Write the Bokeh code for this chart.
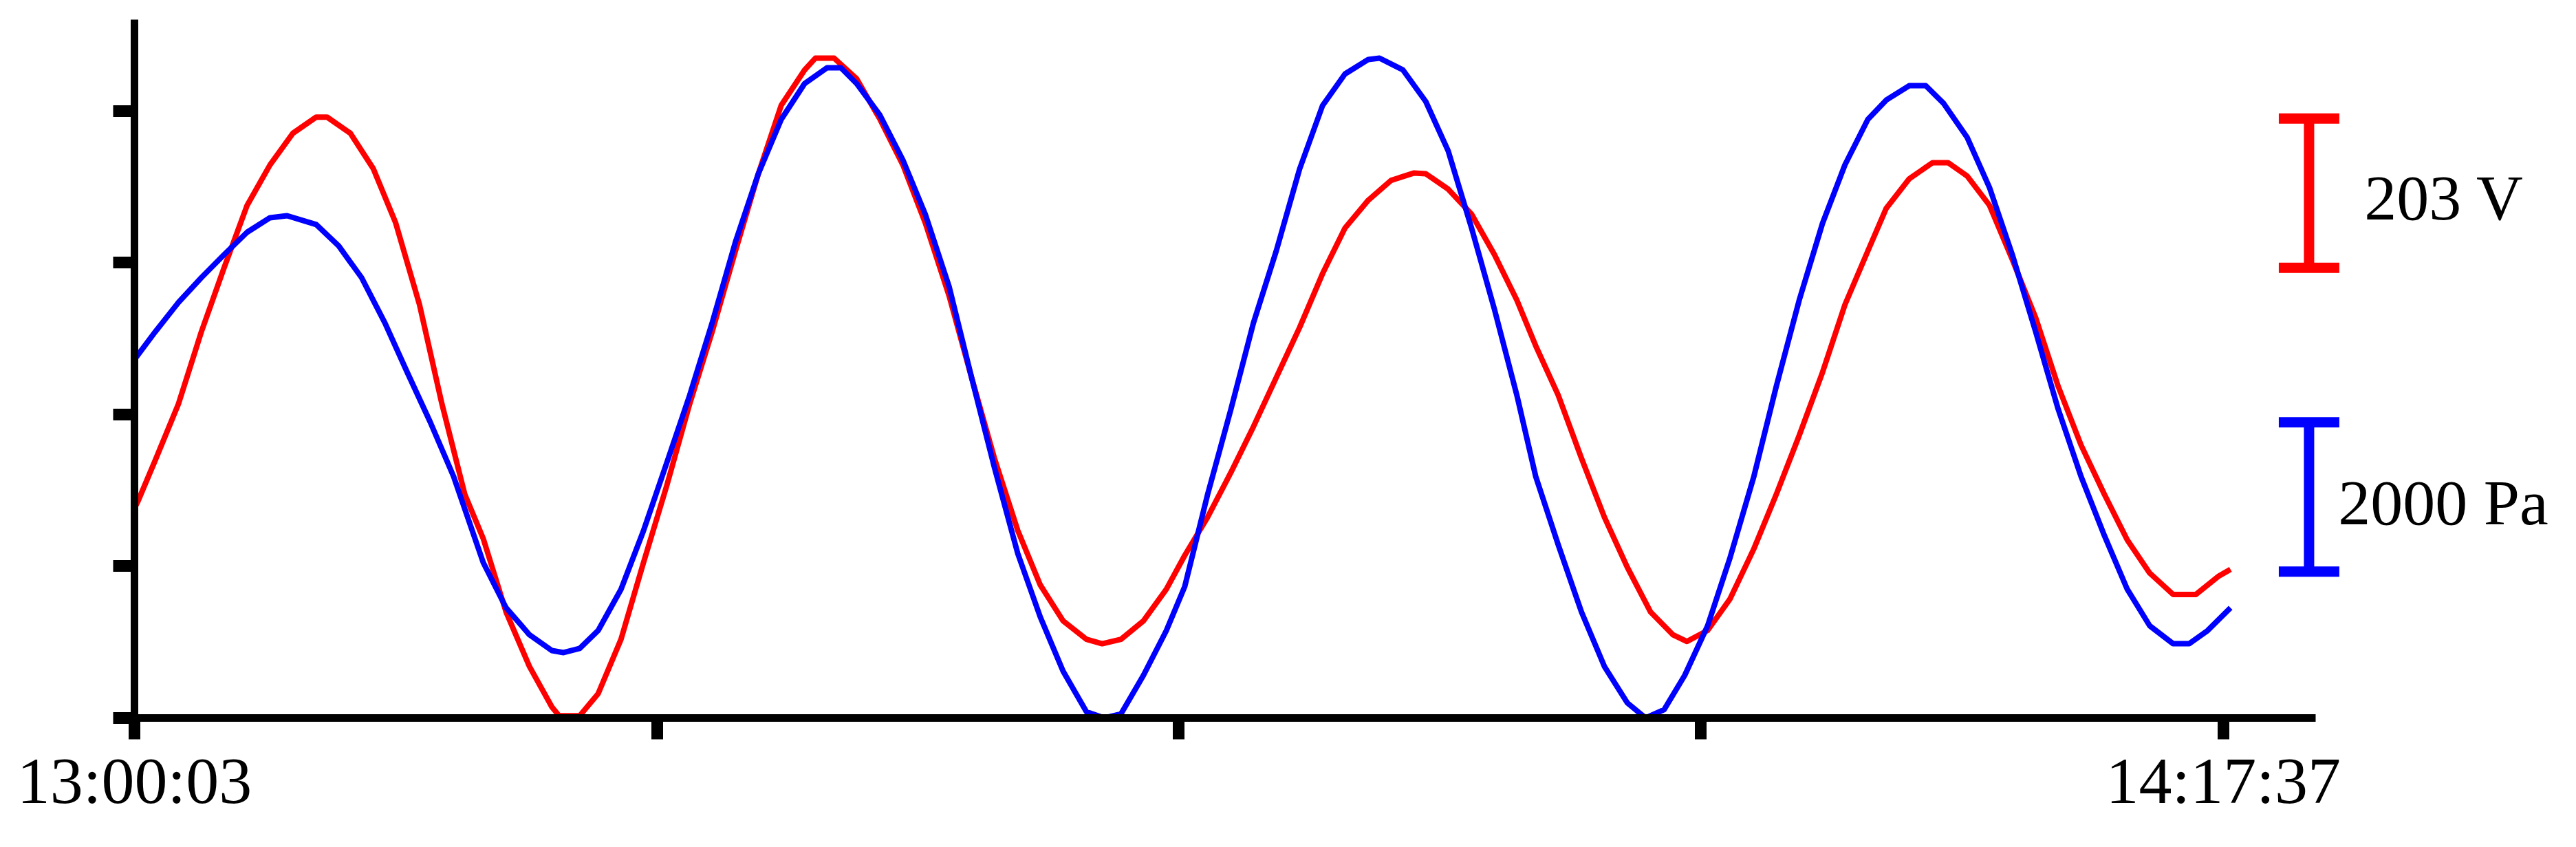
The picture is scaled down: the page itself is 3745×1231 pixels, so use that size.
from bokeh.plotting import figure
from bokeh.models import Range1d, FixedTicker, Label, Arrow, TeeHead, LinearAxis
from bokeh.embed import file_html
from bokeh.resources import INLINE

# ---------------- data ----------------
start_label = "13:00:03"
end_label = "14:17:37"

# red series: voltage (V) against seconds after 13:00:03
red_t = [0, 8, 46, 98, 149, 199, 251, 302, 353, 405,
         429, 481, 532, 582, 635, 685, 736, 777, 803, 828,
         880, 930, 946, 992, 1033, 1084, 1134, 1186, 1237, 1287,
         1339, 1390, 1441, 1493, 1517, 1559, 1609, 1661, 1712, 1762,
         1815, 1865, 1916, 1968, 2018, 2069, 2121, 2156, 2198, 2248,
         2299, 2340, 2391, 2443, 2493, 2544, 2596, 2647, 2697, 2749,
         2800, 2851, 2877, 2927, 2979, 3030, 3080, 3122, 3172, 3224,
         3275, 3326, 3378, 3428, 3459, 3505, 3555, 3608, 3658, 3709,
         3761, 3811, 3862, 3903, 3954, 4006, 4041, 4083, 4133, 4184,
         4236, 4286, 4337, 4389, 4440, 4490, 4542, 4593, 4644, 4670]
red_volts = [285, 295, 350, 427, 525, 611, 697, 752, 795, 817,
             817, 795, 747, 673, 562, 427, 304, 244, 193, 144,
             70, 15, 3, 3, 33, 107, 211, 316, 427, 525,
             635, 740, 833, 881, 897, 897, 869, 814, 752, 673,
             574, 463, 353, 255, 181, 132, 107, 101, 107, 132,
             175, 221, 273, 334, 396, 463, 531, 604, 666, 704,
             731, 741, 740, 719, 685, 630, 568, 506, 439, 353,
             273, 205, 144, 113, 104, 119, 162, 230, 304, 384,
             470, 562, 635, 693, 733, 755, 755, 737, 697, 623,
             544, 451, 371, 304, 242, 197, 168, 168, 193, 202]

# blue series: pressure (Pa) against seconds after 13:00:03
blue_t = [0, 46, 98, 149, 199, 251, 302, 340, 405, 455,
          506, 558, 608, 659, 711, 777, 828, 880, 930, 956,
          992, 1033, 1084, 1134, 1186, 1237, 1287, 1339, 1390, 1441,
          1493, 1543, 1574, 1609, 1661, 1712, 1762, 1815, 1865, 1916,
          1968, 2018, 2069, 2121, 2161, 2198, 2248, 2299, 2340, 2391,
          2443, 2493, 2544, 2596, 2647, 2697, 2749, 2774, 2826, 2877,
          2927, 2979, 3030, 3080, 3122, 3172, 3224, 3275, 3326, 3367,
          3408, 3454, 3505, 3555, 3608, 3658, 3709, 3761, 3811, 3862,
          3903, 3954, 3991, 4031, 4083, 4133, 4184, 4236, 4286, 4337,
          4389, 4440, 4490, 4542, 4578, 4619, 4670]
blue_pa = [4802, 5171, 5567, 5899, 6203, 6507, 6701, 6728, 6609, 6323,
           5899, 5291, 4627, 3963, 3235, 2083, 1475, 1115, 903, 876,
           931, 1171, 1724, 2507, 3420, 4323, 5291, 6378, 7291, 8019,
           8498, 8710, 8710, 8498, 8074, 7475, 6747, 5779, 4562, 3355,
           2203, 1355, 627, 83, 0, 55, 571, 1171, 1760, 2996,
           4138, 5291, 6258, 7355, 8203, 8627, 8821, 8839, 8682, 8258,
           7595, 6563, 5475, 4323, 3235, 2323, 1419, 691, 203, 0,
           111, 571, 1235, 2148, 3235, 4443, 5595, 6627, 7410, 8019,
           8277, 8470, 8470, 8231, 7779, 7106, 6203, 5171, 4138, 3235,
           2443, 1724, 1235, 995, 995, 1171, 1475]

scale_labels = ["203 V", "2000 Pa"]
scale_values = [203, 2000]


def hms(s):
    h, m, sec = map(int, s.split(":"))
    return h * 3600 + m * 60 + sec


span = hms(end_label) - hms(start_label)
x_ticks = [0, round(span / 4), round(span / 2), round(3 * span / 4), span]
x_tick_labels = [start_label, "", "", "", end_label]

# ---------------- figure ----------------
FONT = "Liberation Serif"
p = figure(width=3729, height=1215, output_backend="svg", toolbar_location=None,
           x_range=Range1d(0, 5416), y_range=Range1d(0, 4.603),
           x_axis_type=None, y_axis_type=None,
           min_border_left=195, min_border_right=0,
           min_border_top=28, min_border_bottom=172)
p.outline_line_color = None
p.background_fill_color = "white"
p.border_fill_color = "white"
p.extra_y_ranges = {"V": Range1d(0, 949.5), "Pa": Range1d(0, 9355)}

xaxis = LinearAxis(ticker=FixedTicker(ticks=x_ticks), bounds=(0, 4860),
                   major_label_overrides={t: l for t, l in zip(x_ticks, x_tick_labels)})
yaxis = LinearAxis(ticker=FixedTicker(ticks=[0, 1, 2, 3, 4]),
                   major_label_overrides={i: "" for i in range(5)})
for ax in (xaxis, yaxis):
    ax.axis_line_width = 11
    ax.axis_line_color = "black"
    ax.major_tick_line_width = 17
    ax.major_tick_line_color = "black"
    ax.major_tick_out = 31
    ax.major_tick_in = 0
    ax.minor_tick_line_color = None
    ax.major_label_text_font = FONT
    ax.major_label_text_font_size = "96px"
    ax.major_label_text_color = "black"
    ax.major_label_standoff = 6
p.add_layout(xaxis, "below")
p.add_layout(yaxis, "left")

p.line(red_t, red_volts, y_range_name="V", line_color="#ff0000", line_width=8,
       line_join="round")
p.line(blue_t, blue_pa, y_range_name="Pa", line_color="#0000ff", line_width=8,
       line_join="round")

# scale bars
bar_x = 4845
red_bottom = 612
blue_bottom = 1960
p.add_layout(Arrow(start=TeeHead(size=88, line_width=15, line_color="#ff0000"),
                   end=TeeHead(size=88, line_width=15, line_color="#ff0000"),
                   x_start=bar_x, x_end=bar_x,
                   y_start=red_bottom, y_end=red_bottom + scale_values[0],
                   y_range_name="V", line_color="#ff0000", line_width=15))
p.add_layout(Arrow(start=TeeHead(size=88, line_width=15, line_color="#0000ff"),
                   end=TeeHead(size=88, line_width=15, line_color="#0000ff"),
                   x_start=bar_x, x_end=bar_x,
                   y_start=blue_bottom, y_end=blue_bottom + scale_values[1],
                   y_range_name="Pa", line_color="#0000ff", line_width=15))
p.add_layout(Label(x=4968, y=708, y_range_name="V", text=scale_labels[0],
                   text_font=FONT, text_font_size="94px", text_color="black",
                   text_align="left", text_baseline="middle"))
p.add_layout(Label(x=4910, y=2890, y_range_name="Pa", text=scale_labels[1],
                   text_font=FONT, text_font_size="94px", text_color="black",
                   text_align="left", text_baseline="middle"))

open("out.html", "w").write(file_html(p, INLINE))
